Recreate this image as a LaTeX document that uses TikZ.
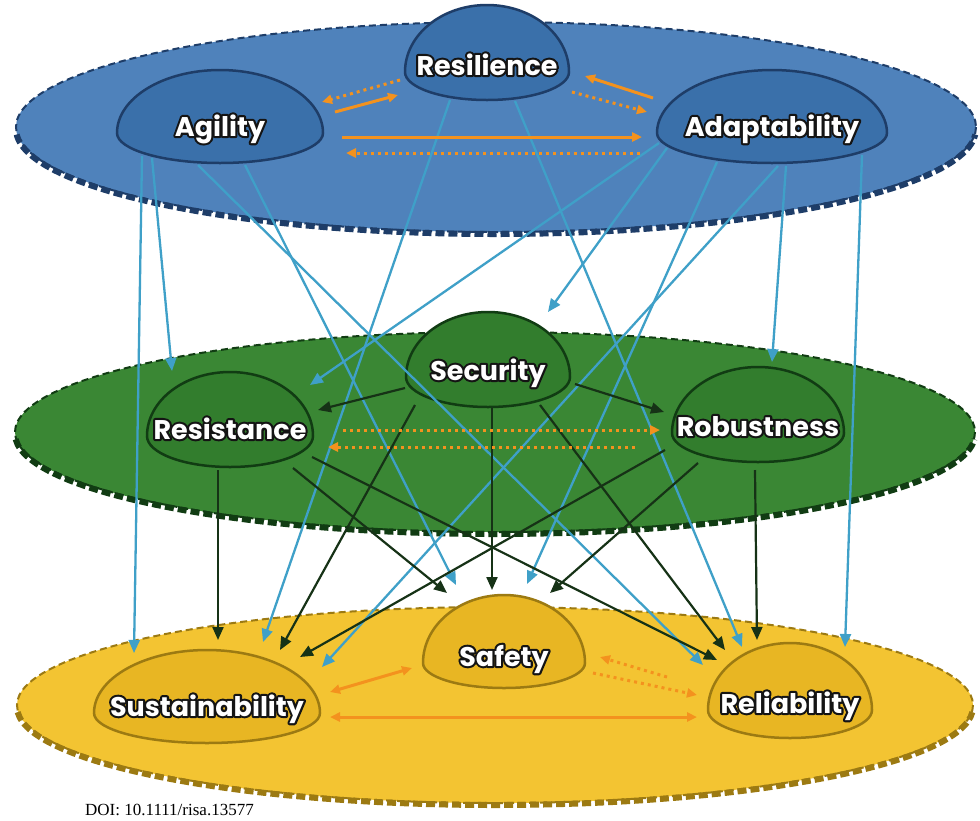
\documentclass[tikz,border=0pt]{standalone}
\usepackage{fontspec}
\usetikzlibrary{arrows.meta,calc}

\newfontfamily\domefont{Poppins}
\newfontfamily\doifont{Liberation Serif}

\definecolor{bluelayer}{HTML}{4F82BB}
\definecolor{bluedome}{HTML}{3A70AA}
\definecolor{blueedge}{HTML}{1E3D68}
\definecolor{greenlayer}{HTML}{3A8734}
\definecolor{greendome}{HTML}{327D2D}
\definecolor{greenedge}{HTML}{113C13}
\definecolor{yellowlayer}{HTML}{F3C432}
\definecolor{yellowdome}{HTML}{E8B623}
\definecolor{yellowedge}{HTML}{9C7A12}
\definecolor{linkcyan}{HTML}{3FA0C8}
\definecolor{linkdark}{HTML}{163216}
\definecolor{linkorange}{HTML}{F3921E}

% dome outline: flat-bottomed half ellipse, widest at (cx,wy)
% #1 style, #2 cx, #3 wy, #4 rx, #5 top radius, #6 bottom radius
\newcommand{\domeshape}[6]{%
  \path[#1] (#2-#4,#3) arc[start angle=180,end angle=360,x radius=#4,y radius=#5]
    arc[start angle=0,end angle=180,x radius=#4,y radius=#6] -- cycle;}
% layer disc with thin rim on top and heavy dashes underneath
% #1 fill, #2 edge, #3 cx, #4 cy, #5 rx, #6 ry
\newcommand{\layerdisc}[6]{%
  \fill[#1] (#3,#4) ellipse[x radius=#5,y radius=#6];
  \draw[#2, line width=2pt, dash pattern=on 7pt off 4pt] (#3,#4) ellipse[x radius=#5,y radius=#6];
  \draw[#2, line width=6pt, dash pattern=on 9pt off 4pt]
    (#3,#4+2) ++(177:#5 and #6) arc[start angle=177,end angle=3,x radius=#5,y radius=#6];}
% white lettering on a dark stroked rim: a stroke-only copy below, the filled text above
\newcommand{\lbl}[1]{%
  \rlap{\special{pdf:literal direct 0.08 0.08 0.08 RG 1 Tr 4.2 w 1 j}#1\special{pdf:literal direct 0 Tr 1 w 0 j}}#1}

\tikzset{
  domelabel/.style={font=\domefont\bfseries\fontsize{27pt}{30pt}\selectfont,
    text=white, inner sep=0pt, text height=6pt, text depth=0pt},
  bluedomestyle/.style={fill=bluedome, draw=blueedge, line width=2.5pt},
  greendomestyle/.style={fill=greendome, draw=greenedge, line width=2.5pt},
  yellowdomestyle/.style={fill=yellowdome, draw=yellowedge, line width=2.5pt},
  cyanlink/.style={draw=linkcyan, line width=2.3pt, -{Triangle[length=13pt,width=11pt]}},
  darklink/.style={draw=linkdark, line width=2.2pt, -{Triangle[length=13pt,width=11pt]}},
  orangesolid/.style={draw=linkorange, line width=3pt, -{Triangle[length=10pt,width=9pt]}},
  orangedot/.style={draw=linkorange, line width=3pt, dash pattern=on 3pt off 4pt,
    -{Triangle[length=10pt,width=9pt]}},
  orangeboth/.style={draw=linkorange, line width=3pt,
    {Triangle[length=10pt,width=9pt]}-{Triangle[length=10pt,width=9pt]}},
}

\begin{document}
\begin{tikzpicture}[x=1pt,y=-1pt]
\useasboundingbox (0,0) rectangle (980,820);
\fill[white] (0,0) rectangle (980,820);

% three layers
\layerdisc{yellowlayer}{yellowedge}{495}{705}{478}{98}
\layerdisc{greenlayer}{greenedge}{495}{432}{480}{100}
\layerdisc{bluelayer}{blueedge}{496}{127}{480}{105}

% domes
\domeshape{bluedomestyle}{220}{133}{103}{63}{30}
\domeshape{bluedomestyle}{487}{72}{82}{67}{28}
\domeshape{bluedomestyle}{772}{133}{115}{63}{30}
\domeshape{greendomestyle}{488}{377}{82}{65}{30}
\domeshape{greendomestyle}{230}{436}{83}{64}{31}
\domeshape{greendomestyle}{758}{433}{86}{66}{29}
\domeshape{yellowdomestyle}{504}{663}{81}{68}{25}
\domeshape{yellowdomestyle}{207}{713}{113}{63}{30}
\domeshape{yellowdomestyle}{790}{710}{82}{67}{28}

% labels
\node[domelabel] (agility) at (220,133) {\lbl{Agility}};
\node[domelabel] (resilience) at (487,72) {\lbl{Resilience}};
\node[domelabel] (adaptability) at (772,133) {\lbl{Adaptability}};
\node[domelabel] (security) at (488,377) {\lbl{Security}};
\node[domelabel] (resistance) at (230,436) {\lbl{Resistance}};
\node[domelabel] (robustness) at (758,433) {\lbl{Robustness}};
\node[domelabel] (safety) at (504,663) {\lbl{Safety}};
\node[domelabel] (sustainability) at (207,713) {\lbl{Sustainability}};
\node[domelabel] (reliability) at (790,710) {\lbl{Reliability}};

% links from the top layer downwards
\draw[cyanlink] ($(agility)+(-78,23)$) -- ($(sustainability)+(-73,-60)$);
\draw[cyanlink] ($(agility)+(-68,25)$) -- ($(resistance)+(-58,-65)$);
\draw[cyanlink] ($(agility)+(25,32)$) -- ($(safety)+(-48,-78)$);
\draw[cyanlink] ($(agility)+(-22,32)$) -- ($(reliability)+(-87,-45)$);
\draw[cyanlink] ($(resilience)+(-37,28)$) -- ($(sustainability)+(56,-71)$);
\draw[cyanlink] ($(resilience)+(28,29)$) -- ($(reliability)+(-48,-63)$);
\draw[cyanlink] ($(adaptability)+(-113,10)$) -- ($(resistance)+(80,-51)$);
\draw[cyanlink] ($(adaptability)+(-105,15)$) -- ($(security)+(60,-65)$);
\draw[cyanlink] ($(adaptability)+(-55,29)$) -- ($(safety)+(23,-79)$);
\draw[cyanlink] ($(adaptability)+(6,33)$) -- ($(sustainability)+(115,-46)$);
\draw[cyanlink] ($(adaptability)+(14,33)$) -- ($(robustness)+(14,-71)$);
\draw[cyanlink] ($(adaptability)+(90,22)$) -- ($(reliability)+(55,-63)$);

% links from the middle layer
\draw[darklink] ($(security)+(-83,11)$) -- ($(resistance)+(88,-26)$);
\draw[darklink] ($(security)+(87,7)$) -- ($(robustness)+(-94,-21)$);
\draw[darklink] ($(security)+(4,31)$) -- ($(safety)+(-12,-73)$);
\draw[darklink] ($(security)+(-73,28)$) -- ($(sustainability)+(73,-63)$);
\draw[darklink] ($(security)+(52,28)$) -- ($(reliability)+(-65,-60)$);
\draw[darklink] ($(resistance)+(-12,34)$) -- ($(sustainability)+(11,-73)$);
\draw[darklink] ($(resistance)+(63,32)$) -- ($(safety)+(-57,-70)$);
\draw[darklink] ($(resistance)+(82,21)$) -- ($(reliability)+(-73,-50)$);
\draw[darklink] ($(robustness)+(-93,17)$) -- ($(sustainability)+(93,-56)$);
\draw[darklink] ($(robustness)+(-60,30)$) -- ($(safety)+(46,-70)$);
\draw[darklink] ($(robustness)+(-3,37)$) -- ($(reliability)+(-33,-70)$);

% links inside each layer
\draw[orangesolid] ($(agility)+(115,-21)$) -- ($(resilience)+(-89,23)$);
\draw[orangedot] ($(resilience)+(-87,8)$) -- ($(agility)+(102,-31)$);
\draw[orangesolid] ($(adaptability)+(-119,-35)$) -- ($(resilience)+(98,4)$);
\draw[orangedot] ($(resilience)+(85,20)$) -- ($(adaptability)+(-125,-21)$);
\draw[orangesolid] ($(agility)+(122,4)$) -- ($(adaptability)+(-130,4)$);
\draw[orangedot] ($(adaptability)+(-132,20)$) -- ($(agility)+(126,20)$);

\draw[orangedot] ($(resistance)+(113,-6)$) -- ($(robustness)+(-98,-3)$);
\draw[orangedot] ($(robustness)+(-123,14)$) -- ($(resistance)+(98,11)$);

\draw[orangeboth] ($(sustainability)+(123,-21)$) -- ($(safety)+(-92,5)$);
\draw[orangeboth] ($(sustainability)+(123,4)$) -- ($(reliability)+(-93,7)$);
\draw[orangedot] ($(reliability)+(-123,-33)$) -- ($(safety)+(96,-6)$);
\draw[orangedot] ($(safety)+(89,10)$) -- ($(reliability)+(-93,-15)$);

% reference tag
\fill[white] (82,796) rectangle (270,820);
\node[font=\doifont\fontsize{17pt}{18pt}\selectfont, anchor=base west, inner sep=0pt]
  (doi) at (85,815) {DOI: 10.1111/risa.13577};
\end{tikzpicture}
\end{document}
